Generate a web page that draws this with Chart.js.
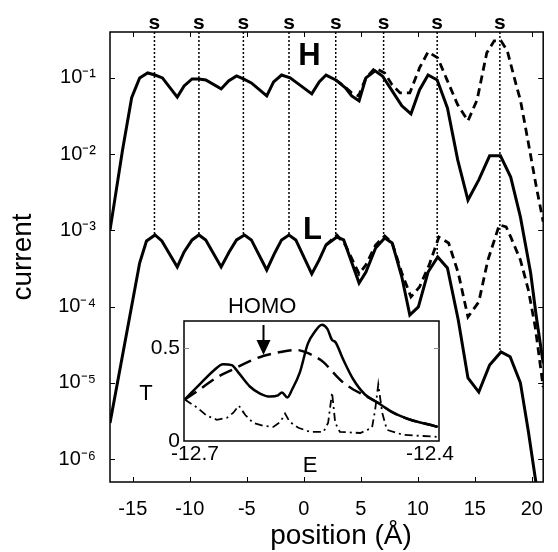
<!DOCTYPE html>
<html>
<head>
<meta charset="utf-8">
<script src="https://cdn.jsdelivr.net/npm/chart.js@4"></script>
<style>
  html, body { margin: 0; padding: 0; background: #fff; }
  #wrap { position: relative; width: 558px; height: 552px; }
  #mainChart { position: absolute; left: 0; top: 0; }
  #insetChart { position: absolute; left: 100px; top: 290px; }
</style>
</head>
<body>
<div id="wrap">
  <canvas id="mainChart" width="558" height="552"></canvas>
  <canvas id="insetChart" width="400" height="200"></canvas>
</div>
<script>
// ---- main panel: current vs position ----
const hX = [-17.0, -15.9, -15.1, -14.4, -13.7, -13.05, -12.4, -11.1, -10.5, -9.8, -9.2, -8.6, -7.25, -6.6, -5.9, -5.3, -4.6,
  -3.25, -2.65, -1.95, -1.2, -0.6, 0.7, 1.35, 1.95, 2.8, 3.65, 4.2, 4.85, 5.45, 6.25, 6.9, 7.75, 8.6, 9.4, 10.15, 10.9,
  11.7, 12.6, 13.5, 14.4, 15.35, 16.3, 17.25, 18.15, 19.0, 19.9, 20.4, 21.0];
const hY = [1.0e-3, 1.13e-2, 5.5e-2, 0.100, 0.116, 0.109, 0.100, 0.056, 0.0785, 0.097, 0.097, 0.094, 0.0717, 0.0914, 0.106,
  0.097, 0.086, 0.058, 0.0887, 0.109, 0.100, 0.086, 0.0617, 0.0887, 0.109, 0.094, 0.074, 0.058, 0.050, 0.100, 0.124, 0.106,
  0.0675, 0.043, 0.0337, 0.0696, 0.109, 0.094, 0.0403, 0.0084, 0.0025, 0.0046, 0.0095, 0.0095, 0.0050, 0.0015, 2.75e-4,
  7.3e-5, 1.8e-5];

const hDashX = [2.8, 3.5, 4.2, 4.8, 5.45, 6.25, 7.1, 7.75, 8.45, 9.3, 10.15, 10.9, 11.75, 12.6, 13.5, 14.4, 15.2, 16.05,
  16.7, 17.3, 17.85, 18.7, 19.0, 19.7, 20.4, 21.0];
const hDashY = [0.094, 0.0785, 0.0636, 0.058, 0.100, 0.135, 0.116, 0.081, 0.0636, 0.0636, 0.135, 0.219, 0.183, 0.0914,
  0.0443, 0.0273, 0.0514, 0.213, 0.306, 0.306, 0.226, 0.074, 0.0514, 0.014, 0.0037, 0.0013];

const lX = [-17.0, -14.4, -13.8, -13.05, -12.45, -11.1, -10.5, -9.8, -9.2, -8.6, -7.25, -6.55, -5.9, -5.2, -4.6, -3.25,
  -2.55, -1.95, -1.3, -0.7, 0.7, 1.35, 1.95, 2.9, 3.5, 4.85, 5.45, 6.3, 7.1, 7.75, 8.6, 9.3, 10.05, 10.9, 11.75, 12.6,
  13.55, 14.4, 15.35, 16.3, 17.3, 18.1, 19.0, 19.7, 20.4, 21.0];
const lY = [2.97e-6, 3.73e-4, 7.26e-4, 8.7e-4, 7.26e-4, 3.31e-4, 5.21e-4, 7.49e-4, 8.7e-4, 7.49e-4, 3.31e-4, 5.21e-4,
  7.49e-4, 8.7e-4, 7.49e-4, 3.02e-4, 5.05e-4, 7.49e-4, 8.7e-4, 7.49e-4, 2.68e-4, 4.09e-4, 6.43e-4, 8.18e-4, 7.49e-4,
  2.04e-4, 2.84e-4, 5.87e-4, 7.94e-4, 6.84e-4, 2.44e-4, 7.76e-5, 9.89e-5, 2.84e-4, 4.48e-4, 3.21e-4, 6.67e-5, 1.16e-5,
  7.57e-6, 1.71e-5, 2.54e-5, 2.2e-5, 1.0e-5, 2.3e-6, 4.5e-7, 8e-8];

const lDashX = [1.95, 2.9, 3.65, 4.85, 5.45, 6.3, 7.1, 7.75, 8.6, 9.4, 10.15, 11.0, 11.85, 12.7, 13.55, 14.4, 15.35,
  16.15, 17.15, 17.75, 18.15, 19.0, 19.7, 20.3, 21.0];
const lDashY = [6.43e-4, 8.7e-4, 6.43e-4, 2.68e-4, 3.52e-4, 6.43e-4, 8.45e-4, 6.84e-4, 2.76e-4, 1.34e-4, 1.81e-4,
  3.52e-4, 8.18e-4, 6.84e-4, 2.76e-4, 7.31e-5, 1.15e-4, 4.09e-4, 1.18e-3, 1.11e-3, 8.2e-4, 4.1e-4, 1.65e-4, 5.4e-5, 8.8e-6];

// sulfur sites and where their dotted markers stop
const sPos = [-13.1, -9.2, -5.3, -1.3, 2.8, 7.0, 11.7, 17.2];
const sEnd = [8.7e-4, 8.7e-4, 8.7e-4, 8.7e-4, 8.2e-4, 7.9e-4, 4.5e-4, 2.5e-5];

const xTicks = [-15, -10, -5, 0, 5, 10, 15, 20];
const yTicks = [1e-6, 1e-5, 1e-4, 1e-3, 1e-2, 1e-1];
const yTickLabels = ['10⁻⁶', '10⁻⁵', '10⁻⁴', '10⁻³', '10⁻²', '10⁻¹'];

// ---- inset: transmission vs energy ----
const eSolid = [-12.713, -12.694, -12.677, -12.664, -12.653, -12.645, -12.630, -12.617, -12.604, -12.594, -12.589, -12.582,
  -12.576, -12.566, -12.556, -12.547, -12.538, -12.531, -12.525, -12.521, -12.511, -12.498, -12.483, -12.467, -12.447,
  -12.425, -12.400, -12.390];
const tSolid = [0.223, 0.304, 0.375, 0.413, 0.408, 0.370, 0.293, 0.255, 0.239, 0.245, 0.261, 0.234, 0.277, 0.370, 0.522,
  0.587, 0.625, 0.603, 0.543, 0.533, 0.440, 0.332, 0.250, 0.207, 0.152, 0.114, 0.087, 0.076];
const eDash = [-12.713, -12.694, -12.672, -12.651, -12.630, -12.613, -12.591, -12.570, -12.553, -12.536, -12.524, -12.511,
  -12.498, -12.483, -12.467, -12.447, -12.425, -12.400, -12.390];
const tDash = [0.223, 0.277, 0.342, 0.386, 0.429, 0.457, 0.478, 0.489, 0.467, 0.424, 0.370, 0.315, 0.277, 0.245, 0.207,
  0.152, 0.114, 0.087, 0.076];
const eDot = [-12.713, -12.697, -12.685, -12.672, -12.659, -12.651, -12.644, -12.636, -12.626, -12.613, -12.600, -12.591,
  -12.585, -12.579, -12.568, -12.553, -12.536, -12.530, -12.525, -12.521, -12.515, -12.489, -12.474, -12.470, -12.466,
  -12.461, -12.455, -12.434, -12.409, -12.390];
const tDot = [0.223, 0.179, 0.136, 0.114, 0.125, 0.152, 0.190, 0.141, 0.098, 0.082, 0.076, 0.103, 0.147, 0.103, 0.071,
  0.049, 0.049, 0.098, 0.261, 0.098, 0.049, 0.043, 0.071, 0.168, 0.304, 0.152, 0.060, 0.033, 0.027, 0.022];
const insetXTicks = [-12.7, -12.4];
const insetXLabels = ['-12.7', '-12.4'];
const insetYTicks = [0, 0.5];
const insetYLabels = ['0', '0.5'];
const homoE = -12.613;

const FONT = "'Liberation Sans', Arial, Helvetica, sans-serif";

function pts(xs, ys) {
  return xs.map((x, i) => ({ x, y: ys[i] }));
}

// vertical dotted markers, broken with null points
const sLines = [];
sPos.forEach((s, i) => {
  sLines.push({ x: s, y: 0.4 }, { x: s, y: sEnd[i] }, { x: s, y: null });
});

function line(data, width, dash) {
  return { data, showLine: true, borderColor: '#000', borderWidth: width, borderDash: dash || [],
    pointRadius: 0, tension: 0, fill: false, spanGaps: false };
}

const mainDecor = {
  id: 'mainDecor',
  beforeDraw(chart) {
    const ctx = chart.ctx;
    ctx.save();
    ctx.fillStyle = '#fff';
    ctx.fillRect(0, 0, chart.width, chart.height);
    ctx.restore();
  },
  afterDraw(chart) {
    const { ctx, chartArea: a, scales: { x, y } } = chart;
    ctx.save();
    ctx.strokeStyle = '#000';
    ctx.lineWidth = 1.5;
    ctx.strokeRect(a.left, a.top, a.right - a.left, a.bottom - a.top);
    ctx.lineWidth = 1;
    ctx.beginPath();
    x.ticks.forEach(t => {
      const p = Math.round(x.getPixelForValue(t.value)) + 0.5;
      ctx.moveTo(p, a.bottom); ctx.lineTo(p, a.bottom - 5);
      ctx.moveTo(p, a.top); ctx.lineTo(p, a.top + 5);
    });
    y.ticks.forEach(t => {
      const p = Math.round(y.getPixelForValue(t.value)) + 0.5;
      ctx.moveTo(a.left, p); ctx.lineTo(a.left + 5, p);
      ctx.moveTo(a.right, p); ctx.lineTo(a.right - 5, p);
    });
    ctx.stroke();

    ctx.fillStyle = '#000';
    ctx.textAlign = 'center';
    ctx.textBaseline = 'alphabetic';
    ctx.font = 'bold 21px ' + FONT;
    sPos.forEach(s => ctx.fillText('s', x.getPixelForValue(s), 29));

    ctx.textBaseline = 'middle';
    ctx.font = 'bold 31px ' + FONT;
    ctx.fillText('H', x.getPixelForValue(0.5), y.getPixelForValue(0.19));
    ctx.fillText('L', x.getPixelForValue(0.75), y.getPixelForValue(1.0e-3));

    // x axis title, centred a little right of the axis middle as in the figure
    ctx.font = '28px ' + FONT;
    ctx.fillText('position (Å)', 341, 536);
    ctx.restore();
  }
};

new Chart(document.getElementById('mainChart'), {
  type: 'scatter',
  data: {
    datasets: [
      line(sLines, 1.5, [2, 2]),
      line(pts(hDashX, hDashY), 2.8, [8, 5]),
      line(pts(lDashX, lDashY), 2.8, [8, 5]),
      line(pts(hX, hY), 3),
      line(pts(lX, lY), 3)
    ]
  },
  options: {
    responsive: false,
    animation: false,
    layout: { padding: { left: 0, top: 32, right: 3, bottom: 0 } },
    plugins: { legend: { display: false }, tooltip: { enabled: false } },
    scales: {
      x: {
        type: 'linear', min: -17, max: 21,
        afterBuildTicks: s => { s.ticks = xTicks.map(v => ({ value: v })); },
        afterFit: s => { s.height = 70; },
        grid: { display: false, drawTicks: false },
        border: { display: false },
        ticks: { font: { family: FONT, size: 20 }, color: '#000', padding: 15, maxRotation: 0, autoSkip: false,
          callback: v => String(v) }
      },
      y: {
        type: 'logarithmic', min: 5e-7, max: 0.4,
        afterBuildTicks: s => { s.ticks = yTicks.map(v => ({ value: v })); },
        afterFit: s => { s.width = 110; },
        grid: { display: false, drawTicks: false },
        border: { display: false },
        ticks: { font: { family: FONT, size: 20 }, color: '#000', padding: 14, autoSkip: false,
          callback: (v, i) => yTickLabels[i] },
        title: { display: true, text: 'current', color: '#000', font: { family: FONT, size: 28 }, padding: { top: 6 } }
      }
    }
  },
  plugins: [mainDecor]
});

const insetDecor = {
  id: 'insetDecor',
  beforeDraw(chart) {
    const { ctx, chartArea: a } = chart;
    ctx.save();
    ctx.fillStyle = '#fff';
    ctx.fillRect(a.left, a.top, a.right - a.left, a.bottom - a.top);
    ctx.restore();
  },
  afterDraw(chart) {
    const { ctx, chartArea: a, scales: { x, y } } = chart;
    ctx.save();
    ctx.strokeStyle = '#000';
    ctx.lineWidth = 1.5;
    ctx.strokeRect(a.left, a.top, a.right - a.left, a.bottom - a.top);
    ctx.strokeStyle = '#888';
    ctx.lineWidth = 1;
    ctx.beginPath();
    const p = Math.round(y.getPixelForValue(0.5)) + 0.5;
    ctx.moveTo(a.left, p); ctx.lineTo(a.left + 5, p);
    ctx.moveTo(a.right, p); ctx.lineTo(a.right - 5, p);
    ctx.stroke();

    ctx.fillStyle = '#000';
    ctx.textAlign = 'center';
    ctx.textBaseline = 'middle';
    // energy tick labels, centred on their ticks (Chart.js would push the first one inside)
    ctx.font = '21px ' + FONT;
    insetXTicks.forEach((v, i) => ctx.fillText(insetXLabels[i], x.getPixelForValue(v), a.bottom + 13));

    ctx.font = '22px ' + FONT;
    ctx.fillText('T', 46, 104);
    ctx.fillText('E', 210, 176);
    ctx.fillText('HOMO', x.getPixelForValue(homoE) - 1, 17);

    // arrow pointing at the HOMO level
    const ax = Math.round(x.getPixelForValue(homoE)) + 0.5;
    const tip = y.getPixelForValue(0.462);
    ctx.strokeStyle = '#000';
    ctx.lineWidth = 2;
    ctx.beginPath();
    ctx.moveTo(ax, 35); ctx.lineTo(ax, tip - 12);
    ctx.stroke();
    ctx.beginPath();
    ctx.moveTo(ax - 7, tip - 15); ctx.lineTo(ax + 7, tip - 15); ctx.lineTo(ax, tip);
    ctx.closePath();
    ctx.fill();
    ctx.restore();
  }
};

function insetLine(data, width, dash, smooth) {
  const d = line(data, width, dash);
  if (smooth) d.cubicInterpolationMode = 'monotone';
  return d;
}

new Chart(document.getElementById('insetChart'), {
  type: 'scatter',
  data: {
    datasets: [
      insetLine(pts(eDot, tDot), 1.8, [8, 4, 2, 4], false),
      insetLine(pts(eDash, tDash), 2.5, [14, 7], true),
      insetLine(pts(eSolid, tSolid), 2.5, [], true)
    ]
  },
  options: {
    responsive: false,
    animation: false,
    layout: { padding: { left: 0, top: 31, right: 61, bottom: 0 } },
    plugins: { legend: { display: false }, tooltip: { enabled: false } },
    scales: {
      x: {
        type: 'linear', min: -12.714, max: -12.3885,
        afterBuildTicks: s => { s.ticks = insetXTicks.map(v => ({ value: v })); },
        afterFit: s => { s.height = 49; },
        grid: { display: false, drawTicks: false },
        border: { display: false },
        ticks: { display: false }
      },
      y: {
        type: 'linear', min: 0, max: 0.645,
        afterBuildTicks: s => { s.ticks = insetYTicks.map(v => ({ value: v })); },
        afterFit: s => { s.width = 84; },
        grid: { display: false, drawTicks: false },
        border: { display: false },
        ticks: { font: { family: FONT, size: 21 }, color: '#000', padding: 4, autoSkip: false,
          callback: (v, i) => insetYLabels[i] }
      }
    }
  },
  plugins: [insetDecor]
});
</script>
</body>
</html>
